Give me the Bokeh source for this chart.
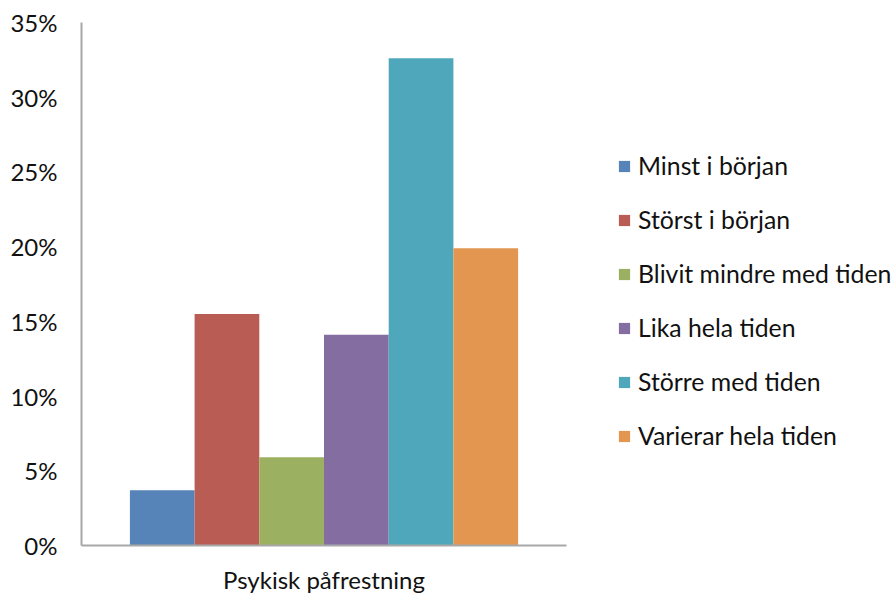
from bokeh.plotting import figure
from bokeh.models import ColumnDataSource, FactorRange, Range1d, Legend, LegendItem, NumeralTickFormatter, FixedTicker
from bokeh.transform import dodge
from bokeh.embed import file_html
from bokeh.resources import INLINE

# Share of answers (%) per development pattern
category = ["Psykisk påfrestning"]
series = ["Minst i början", "Störst i början", "Blivit mindre med tiden",
          "Lika hela tiden", "Större med tiden", "Varierar hela tiden"]
values = [3.7, 15.5, 5.9, 14.1, 32.6, 19.9]
colors = ["#5683b8", "#b95c53", "#9bb060", "#846ea1", "#4fa7bb", "#e3964f"]
y_ticks = [0, 5, 10, 15, 20, 25, 30, 35]

FONT = "Lato"
bar_w = 0.1334

p = figure(frame_width=485, frame_height=523,
           x_range=FactorRange(*category, range_padding=0),
           y_range=Range1d(0, 35), output_backend="svg", toolbar_location=None,
           min_border_left=81, min_border_right=327, min_border_top=22, min_border_bottom=49)
p.outline_line_color = None
p.xgrid.grid_line_color = None
p.ygrid.grid_line_color = None

data = {"cat": category}
for i, v in enumerate(values):
    data[f"s{i}"] = [v]
src = ColumnDataSource(data)

items = []
for i, (name, col) in enumerate(zip(series, colors)):
    offset = (i - (len(series) - 1) / 2) * bar_w
    r = p.vbar(x=dodge("cat", offset, range=p.x_range), top=f"s{i}", width=bar_w,
               source=src, fill_color=col, line_color=None)
    items.append(LegendItem(label=name, renderers=[r]))

legend = Legend(items=items, location=(51, 95), orientation="vertical",
                glyph_width=14, glyph_height=14, label_standoff=7, spacing=25,
                padding=0, margin=0, border_line_color=None, background_fill_alpha=0,
                label_text_font=FONT, label_text_font_size="24.8px", label_text_color="#111111")
p.add_layout(legend, "right")

ax = p.yaxis[0]
ax.ticker = FixedTicker(ticks=y_ticks)
ax.formatter = NumeralTickFormatter(format="0")
ax.major_label_overrides = {t: f"{t}%" for t in y_ticks}
ax.major_tick_line_color = None
ax.major_tick_out = 0
ax.minor_tick_line_color = None
ax.major_label_standoff = 24
ax.axis_line_color = "#a8a8a8"
ax.axis_line_width = 2
ax.major_label_text_font = FONT
ax.major_label_text_font_size = "24px"
ax.major_label_text_color = "#111111"

bx = p.xaxis[0]
bx.major_tick_line_color = None
bx.major_tick_out = 0
bx.minor_tick_line_color = None
bx.axis_line_color = "#a8a8a8"
bx.axis_line_width = 2
bx.major_label_standoff = 19
bx.major_label_text_font = FONT
bx.major_label_text_font_size = "24px"
bx.major_label_text_color = "#111111"

open("out.html", "w").write(file_html(p, INLINE))
